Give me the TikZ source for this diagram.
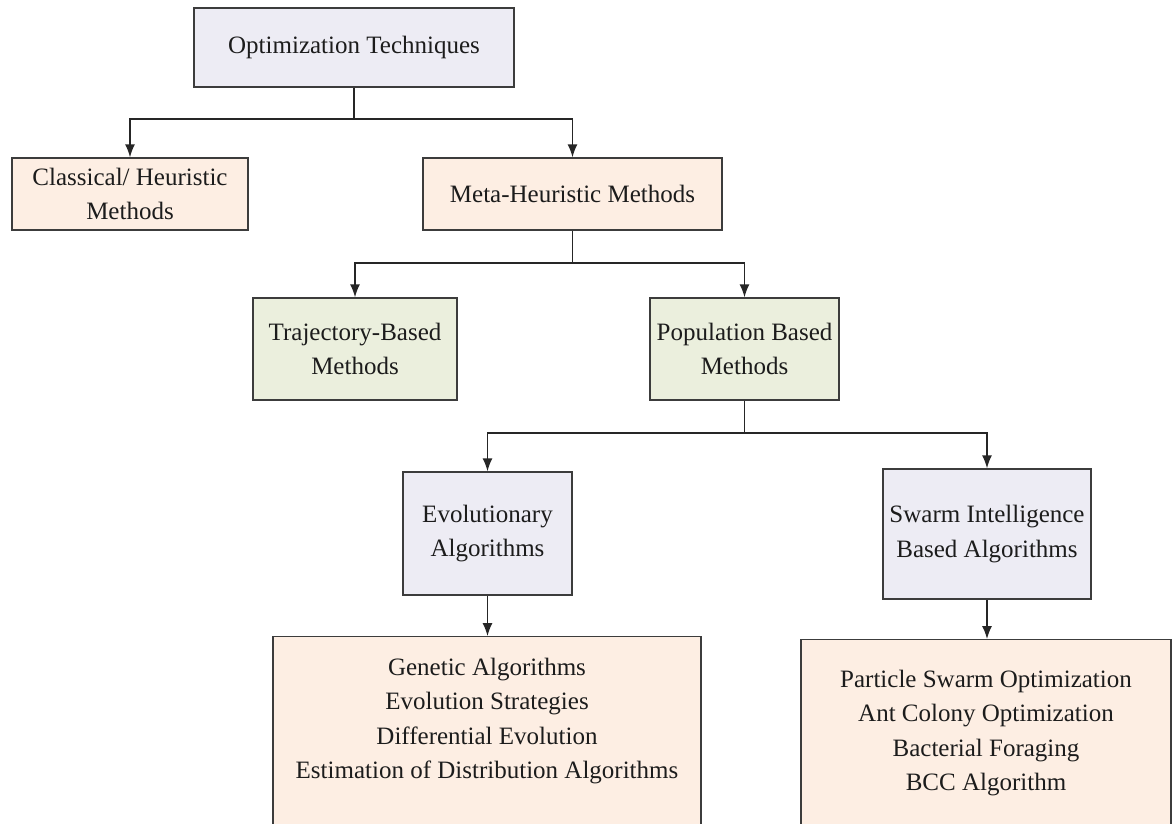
\documentclass[tikz,border=0pt]{standalone}
\usepackage{fontspec}
\setmainfont{Liberation Serif}
\usetikzlibrary{arrows.meta}
\definecolor{edge}{HTML}{3C3C3C}
\definecolor{txt}{HTML}{1C1C1C}
\definecolor{lav}{HTML}{EDECF4}
\definecolor{peach}{HTML}{FDEEE3}
\definecolor{sage}{HTML}{EBEFDD}
\tikzset{
  box/.style={draw=edge, line width=1.4pt, inner sep=0pt, align=center,
    text=txt, font=\fontsize{25}{34.6}\selectfont},
  lavbox/.style={box, fill=lav},
  peachbox/.style={box, fill=peach},
  sagebox/.style={box, fill=sage},
  listtext/.style={align=center, inner sep=0pt, text=txt,
    font=\fontsize{25}{34.6}\selectfont},
  conn/.style={draw=black!85, line width=1.4pt},
  arr/.style={conn, -{Latex[length=13pt,width=10pt]}}
}
\begin{document}
\begin{tikzpicture}[x=1pt, y=-1pt]
  \useasboundingbox (0,0) rectangle (1173,823);
  \fill[white] (0,0) rectangle (1173,823);

  % first level
  \node[lavbox, minimum width=320pt, minimum height=79pt] (opt) at (354,47.5)
    {Optimization Techniques};
  \node[peachbox, minimum width=236pt, minimum height=72pt] (cls) at (130,194)
    {Classical/ Heuristic\\Methods};
  \node[peachbox, minimum width=299pt, minimum height=72pt] (meta) at (572.5,194)
    {Meta-Heuristic Methods};

  % second level
  \node[sagebox, minimum width=204pt, minimum height=102pt] (traj) at (355,349)
    {Trajectory-Based\\Methods};
  \node[sagebox, minimum width=189pt, minimum height=102pt] (pop) at (744.5,349)
    {Population Based\\Methods};

  % third level
  \node[lavbox, minimum width=169pt, minimum height=123pt] (evo) at (487.5,533.5)
    {Evolutionary\\Algorithms};
  \node[lavbox, minimum width=208pt, minimum height=130pt] (swarm) at (987,534)
    {Swarm Intelligence\\Based Algorithms};

  % algorithm lists, running past the lower edge
  \begin{scope}
    \clip (0,0) rectangle (1173,823);
    \node[peachbox, minimum width=428pt, minimum height=264pt, anchor=north]
      (ealist) at (487,636) {};
    \node[peachbox, minimum width=370pt, minimum height=264pt, anchor=north]
      (silist) at (986,639) {};
  \end{scope}
  \node[listtext] (eatext) at (487,721)
    {Genetic Algorithms\\Evolution Strategies\\Differential Evolution\\Estimation of Distribution Algorithms};
  \node[listtext] (sitext) at (986,733)
    {Particle Swarm Optimization\\Ant Colony Optimization\\Bacterial Foraging\\BCC Algorithm};

  % connectors
  \coordinate (j1) at (354,119);
  \draw[conn] (opt.south) -- (j1);
  \draw[arr] (j1) -| (cls.north);
  \draw[arr] (j1) -| (meta.north);

  \coordinate (j2) at (572.5,263);
  \draw[conn] (meta.south) -- (j2);
  \draw[arr] (j2) -| (traj.north);
  \draw[arr] (j2) -| (pop.north);

  \coordinate (j3) at (744.5,433);
  \draw[conn] (pop.south) -- (j3);
  \draw[arr] (j3) -| (evo.north);
  \draw[arr] (j3) -| (swarm.north);

  \draw[arr] (evo.south) -- (evo.south |- ealist.north);
  \draw[arr] (swarm.south) -- (swarm.south |- silist.north);
\end{tikzpicture}
\end{document}
